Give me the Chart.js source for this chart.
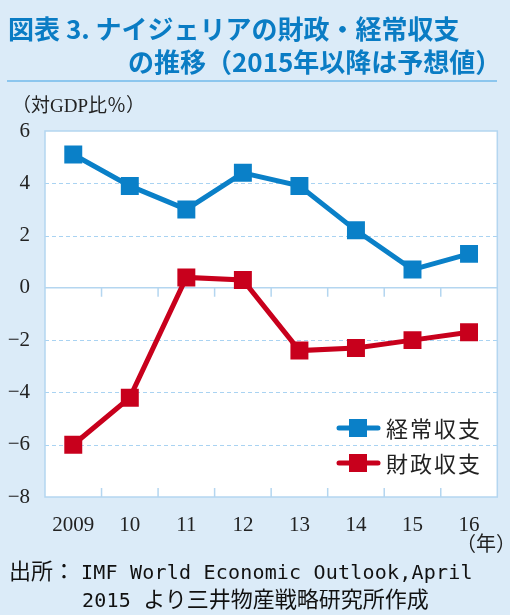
<!DOCTYPE html>
<html>
<head>
<meta charset="utf-8">
<script src="https://cdn.jsdelivr.net/npm/chart.js@4/dist/chart.umd.min.js"></script>
<style>
  html, body { margin: 0; padding: 0; }
  body { width: 510px; height: 615px; background: #dbebf8; position: relative; overflow: hidden; }
  #wrap { position: absolute; left: 0; top: 0; width: 510px; height: 615px; }
  .t { position: absolute; white-space: nowrap; }
  .title { color: #0a7cc4; font-family: "Noto Sans CJK JP", sans-serif; font-weight: 700; font-size: 26px; }
  .rule { position: absolute; left: 7px; top: 80px; width: 490px; height: 2px; background: #8cc6ee; }
  .ylab { font-family: "Liberation Serif", "Noto Sans CJK JP", serif; font-size: 19px; color: #222; }
  .src { font-size: 22px; color: #111; }
  .cjk { font-family: "Noto Sans CJK JP", sans-serif; }
  .mono { font-family: "DejaVu Sans Mono", monospace; font-size: 20px; letter-spacing: 0.2px; }
</style>
</head>
<body>
<div id="wrap"><canvas id="c" width="510" height="615"></canvas></div>

<div class="t title" style="left:8px; top:9px;">図表 3. ナイジェリアの財政・経常収支</div>
<div class="t title" style="left:128px; top:42px;">の推移（2015年以降は予想値）</div>
<div class="rule"></div>
<div class="t ylab" style="left:12px; top:90px;"><span class="cjk">（対</span>GDP<span class="cjk">比％）</span></div>
<div class="t ylab" style="left:456px; top:528px; font-size:20px;"><span class="cjk">（年）</span></div>
<div class="t src" style="left:9px; top:553px;"><span class="cjk">出所：</span><span class="mono" style="margin-left:6px;">IMF World Economic Outlook,April</span></div>
<div class="t src" style="left:82px; top:581px;"><span class="mono">2015 </span><span class="cjk">より三井物産戦略研究所作成</span></div>

<script>
// データ（％、対GDP比）
const years = ['2009', '10', '11', '12', '13', '14', '15', '16'];
const currentAccount = [5.1, 3.9, 3.0, 4.4, 3.9, 2.2, 0.7, 1.3];
const fiscalBalance = [-6.0, -4.2, 0.4, 0.3, -2.4, -2.3, -2.0, -1.7];
const seriesNames = ['経常収支', '財政収支'];
const yTicks = [6, 4, 2, 0, -2, -4, -6, -8];

const BLUE = '#0a80c8';
const RED = '#c8001c';
const FRAME = '#b4d6f0';

// 白地・破線グリッド・枠線・ゼロ線・目盛り・凡例
const decor = {
    id: 'decor',
    beforeDraw(chart) {
        const { ctx, chartArea: a } = chart;
        ctx.save();
        ctx.fillStyle = '#ffffff';
        ctx.fillRect(a.left, a.top, a.right - a.left, a.bottom - a.top);
        ctx.restore();
    },
    beforeDatasetsDraw(chart) {
        const { ctx, chartArea: a, scales: { x, y } } = chart;
        ctx.save();
        // 破線グリッド
        ctx.strokeStyle = '#a9d3f2';
        ctx.lineWidth = 1.2;
        ctx.setLineDash([4, 3]);
        ctx.beginPath();
        yTicks.filter(v => ![6, 0, -8].includes(v)).forEach(v => {
            const py = Math.round(y.getPixelForValue(v)) + 0.5;
            ctx.moveTo(a.left, py);
            ctx.lineTo(a.right, py);
        });
        ctx.stroke();
        ctx.setLineDash([]);

        ctx.strokeStyle = FRAME;
        ctx.lineWidth = 1.5;
        ctx.strokeRect(a.left, a.top, a.right - a.left, a.bottom - a.top);
        const y0 = y.getPixelForValue(0);
        ctx.beginPath();
        ctx.moveTo(a.left, y0);
        ctx.lineTo(a.right, y0);
        for (let i = 0; i < years.length - 1; i++) {
            const bx = (x.getPixelForValue(i) + x.getPixelForValue(i + 1)) / 2;
            ctx.moveTo(bx, y0);
            ctx.lineTo(bx, y0 + 9);
            ctx.moveTo(bx, a.bottom);
            ctx.lineTo(bx, a.bottom - 9);
        }
        ctx.stroke();
        ctx.restore();
    },
    afterDatasetsDraw(chart) {
        const { ctx } = chart;
        ctx.save();
        chart.data.datasets.forEach((ds, i) => {
            const cy = 428 + i * 35;
            ctx.strokeStyle = ds.borderColor;
            ctx.lineWidth = 5;
            ctx.lineCap = 'round';
            ctx.beginPath();
            ctx.moveTo(339, cy);
            ctx.lineTo(378, cy);
            ctx.stroke();
            ctx.fillStyle = ds.borderColor;
            ctx.fillRect(349, cy - 9, 18, 18);
            ctx.fillStyle = '#222';
            ctx.font = '22px "Noto Sans CJK JP"';
            ctx.letterSpacing = '2px';
            ctx.textBaseline = 'middle';
            ctx.fillText(ds.label, 386, cy + 1);
        });
        ctx.restore();
    }
};

new Chart(document.getElementById('c'), {
    type: 'line',
    data: {
        labels: years,
        datasets: [
            {
                label: seriesNames[0],
                data: currentAccount,
                borderColor: BLUE,
                backgroundColor: BLUE,
                borderWidth: 5,
                pointStyle: 'rect',
                pointRadius: 12.7,
                pointBorderWidth: 0,
                tension: 0
            },
            {
                label: seriesNames[1],
                data: fiscalBalance,
                borderColor: RED,
                backgroundColor: RED,
                borderWidth: 5,
                pointStyle: 'rect',
                pointRadius: 12.7,
                pointBorderWidth: 0,
                tension: 0
            }
        ]
    },
    options: {
        responsive: false,
        animation: false,
        layout: { padding: { top: 131, right: 12, left: 0, bottom: 0 } },
        plugins: {
            legend: { display: false },
            tooltip: { enabled: false }
        },
        scales: {
            x: {
                offset: true,
                grid: { display: false },
                border: { display: false },
                ticks: {
                    color: '#222',
                    font: { family: '"Liberation Serif", serif', size: 21 },
                    padding: 8,
                    maxRotation: 0
                },
                afterFit(s) { s.height = 118; }
            },
            y: {
                min: -8,
                max: 6,
                afterBuildTicks(s) { s.ticks = yTicks.map(v => ({ value: v })); },
                grid: { display: false },
                border: { display: false },
                ticks: {
                    color: '#222',
                    font: { family: '"Liberation Serif", serif', size: 21 },
                    padding: 7,
                    callback: v => String(v).replace('-', '−')
                },
                afterFit(s) { s.width = 45; }
            }
        }
    },
    plugins: [decor]
});
</script>
</body>
</html>
